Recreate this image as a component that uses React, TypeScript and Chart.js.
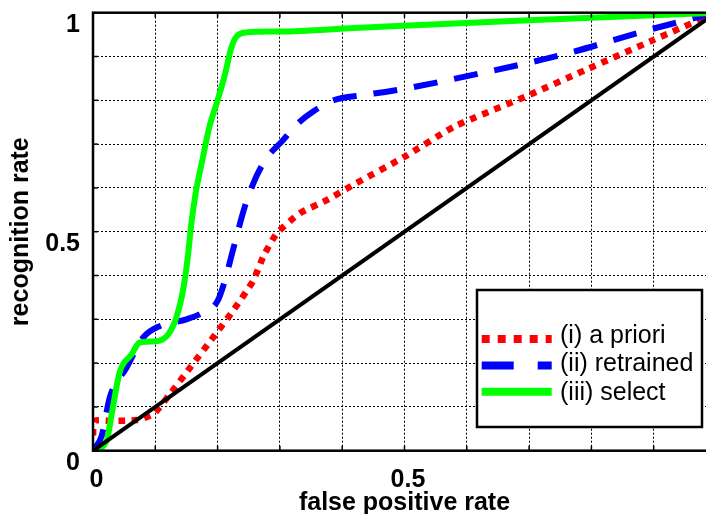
import React, { useEffect, useRef } from 'react';
import { Chart, registerables } from 'chart.js';

Chart.register(...registerables);

// ---- data ----
const xTickValues = [0, 0.5, 1];
const xTickLabels = ['0', '0.5', '1'];
const yTickValues = [0, 0.5, 1];
const yTickLabels = ['0', '0.5', '1'];

const seriesNames = ['(i) a priori', '(ii) retrained', '(iii) select'];
const seriesColors = ['#ff0000', '#0000ff', '#00ff00'];

const aprioriX = [0, 0.002, 0.03, 0.07, 0.097, 0.124, 0.156, 0.193, 0.225, 0.257, 0.274, 0.295, 0.332, 0.375, 0.419, 0.5, 0.58, 0.7, 0.79, 0.9, 1.0];
const aprioriY = [0.035, 0.068, 0.068, 0.07, 0.084, 0.13, 0.19, 0.259, 0.32, 0.388, 0.445, 0.496, 0.542, 0.572, 0.608, 0.671, 0.74, 0.812, 0.869, 0.938, 1.0];

const retrainedX = [0, 0.014, 0.027, 0.054, 0.081, 0.108, 0.15, 0.177, 0.2, 0.212, 0.225, 0.247, 0.273, 0.305, 0.327, 0.354, 0.386, 0.435, 0.494, 0.633, 0.761, 0.89, 1.0];
const retrainedY = [0, 0.034, 0.122, 0.19, 0.259, 0.285, 0.3, 0.316, 0.342, 0.39, 0.46, 0.572, 0.656, 0.709, 0.745, 0.775, 0.8, 0.812, 0.825, 0.865, 0.907, 0.96, 1.0];

const selectX = [0, 0.022, 0.03, 0.043, 0.062, 0.075, 0.102, 0.121, 0.134, 0.145, 0.152, 0.158, 0.165, 0.175, 0.187, 0.2, 0.212, 0.222, 0.23, 0.245, 0.3, 0.42, 0.7, 1.0];
const selectY = [0, 0.023, 0.084, 0.18, 0.22, 0.247, 0.25, 0.266, 0.305, 0.37, 0.44, 0.52, 0.59, 0.66, 0.74, 0.8, 0.86, 0.92, 0.945, 0.955, 0.957, 0.965, 0.983, 1.0];

const chanceX = [0, 1];
const chanceY = [0, 1];

const FONT = "'Liberation Sans', Arial, Helvetica, sans-serif";

const pts = (xs: number[], ys: number[]) => xs.map((x, i) => ({ x, y: ys[i] }));

const labelFor = (vals: number[], labels: string[]) => (value: any) => {
  const i = vals.findIndex((v) => Math.abs(v - Number(value)) < 1e-6);
  return i >= 0 ? labels[i] : '';
};

const legendDash: number[][] = [[8, 8], [32, 24], []];

const framePlugin = {
  id: 'frameAndLegend',
  afterDatasetsDraw(chart: any) {
    const { ctx, chartArea: a, scales } = chart;
    ctx.save();
    ctx.setLineDash([]);
    ctx.strokeStyle = '#000';
    ctx.lineWidth = 1.5;
    const tl = 5;
    const seg = (x1: number, y1: number, x2: number, y2: number) => {
      ctx.beginPath();
      ctx.moveTo(x1, y1);
      ctx.lineTo(x2, y2);
      ctx.stroke();
    };
    scales.x.ticks.forEach((t: any) => {
      const px = scales.x.getPixelForValue(t.value);
      seg(px, a.bottom, px, a.bottom - tl);
      seg(px, a.top, px, a.top + tl);
    });
    scales.y.ticks.forEach((t: any) => {
      const py = scales.y.getPixelForValue(t.value);
      seg(a.left, py, a.left + tl, py);
      seg(a.right, py, a.right - tl, py);
    });
    ctx.lineWidth = 2.5;
    ctx.strokeRect(a.left, a.top, a.right - a.left, a.bottom - a.top);

    // legend
    const lx = a.left + 384;
    const ly = a.top + 277.3;
    const lw = 225;
    const lh = 137;
    ctx.fillStyle = '#fff';
    ctx.fillRect(lx, ly, lw, lh);
    ctx.strokeStyle = '#000';
    ctx.lineWidth = 2.5;
    ctx.strokeRect(lx, ly, lw, lh);
    const sampleY = [49, 75.5, 101.7];
    const textY = [53, 81, 110];
    ctx.font = `25px ${FONT}`;
    ctx.textBaseline = 'alphabetic';
    ctx.textAlign = 'left';
    seriesNames.forEach((name, i) => {
      ctx.save();
      ctx.strokeStyle = seriesColors[i];
      ctx.lineWidth = 8;
      ctx.lineCap = 'butt';
      ctx.setLineDash(legendDash[i]);
      ctx.beginPath();
      ctx.moveTo(lx + 4.7, ly + sampleY[i]);
      ctx.lineTo(lx + 74.7, ly + sampleY[i]);
      ctx.stroke();
      ctx.restore();
      ctx.fillStyle = '#000';
      ctx.fillText(name, lx + 83, ly + textY[i]);
    });
    ctx.restore();
  },
};

export default function App() {
  const ref = useRef<HTMLCanvasElement>(null);

  useEffect(() => {
    if (!ref.current) return;
    Chart.defaults.color = '#000';
    const zeroPad = (s: any) => {
      s.paddingLeft = 0;
      s.paddingRight = 0;
      s.paddingTop = 0;
      s.paddingBottom = 0;
    };
    const chart = new Chart(ref.current, {
      type: 'line',
      data: {
        datasets: [
          {
            label: '',
            data: pts(chanceX, chanceY),
            borderColor: '#000',
            borderWidth: 4,
            pointRadius: 0,
            tension: 0,
          },
          {
            label: seriesNames[2],
            data: pts(selectX, selectY),
            borderColor: seriesColors[2],
            borderWidth: 6,
            pointRadius: 0,
            cubicInterpolationMode: 'monotone',
            borderJoinStyle: 'round',
          },
          {
            label: seriesNames[1],
            data: pts(retrainedX, retrainedY),
            borderColor: seriesColors[1],
            borderWidth: 6,
            borderDash: [24, 17],
            borderCapStyle: 'butt',
            pointRadius: 0,
            cubicInterpolationMode: 'monotone',
          },
          {
            label: seriesNames[0],
            data: pts(aprioriX, aprioriY),
            borderColor: seriesColors[0],
            borderWidth: 6.5,
            borderDash: [6.5, 6.5],
            borderCapStyle: 'butt',
            pointRadius: 0,
            tension: 0.2,
          },
        ],
      } as any,
      options: {
        animation: false,
        responsive: false,
        maintainAspectRatio: false,
        layout: { padding: { top: 12.7, right: 44, left: 0, bottom: 0 } },
        plugins: {
          legend: { display: false },
          tooltip: { enabled: false },
        },
        scales: {
          x: {
            type: 'linear',
            min: 0,
            max: 1,
            grid: { color: '#000', lineWidth: 1, drawTicks: false },
            border: { display: false, dash: [2, 2] },
            ticks: {
              stepSize: 0.1,
              autoSkip: false,
              maxRotation: 0,
              padding: 14,
              labelOffset: 3.5,
              color: '#000',
              font: { family: FONT, size: 25, weight: 'bold' },
              callback: labelFor(xTickValues, xTickLabels),
            },
            title: {
              display: true,
              text: 'false positive rate',
              color: '#000',
              font: { family: FONT, size: 25, weight: 'bold' },
              padding: { top: 0, bottom: 0 },
            },
            afterFit: (s: any) => {
              s.height = 518 - 450.7;
              zeroPad(s);
            },
          },
          y: {
            type: 'linear',
            min: 0,
            max: 1,
            grid: { color: '#000', lineWidth: 1, drawTicks: false },
            border: { display: false, dash: [2, 2] },
            ticks: {
              stepSize: 0.1,
              autoSkip: false,
              padding: 13,
              labelOffset: 12,
              color: '#000',
              font: { family: FONT, size: 25, weight: 'bold' },
              callback: labelFor(yTickValues, yTickLabels),
            },
            title: {
              display: true,
              text: 'recognition rate',
              color: '#000',
              font: { family: FONT, size: 25, weight: 'bold' },
              padding: { top: 6.5, bottom: 0 },
            },
            afterFit: (s: any) => {
              s.width = 93;
              zeroPad(s);
            },
          },
        },
      } as any,
      plugins: [framePlugin],
    });
    return () => chart.destroy();
  }, []);

  return (
    <div style={{ position: 'relative', width: 706, height: 506, overflow: 'hidden' }}>
      <canvas
        ref={ref}
        width={760}
        height={518}
        style={{ position: 'absolute', left: -8, top: -8 }}
      />
    </div>
  );
}
